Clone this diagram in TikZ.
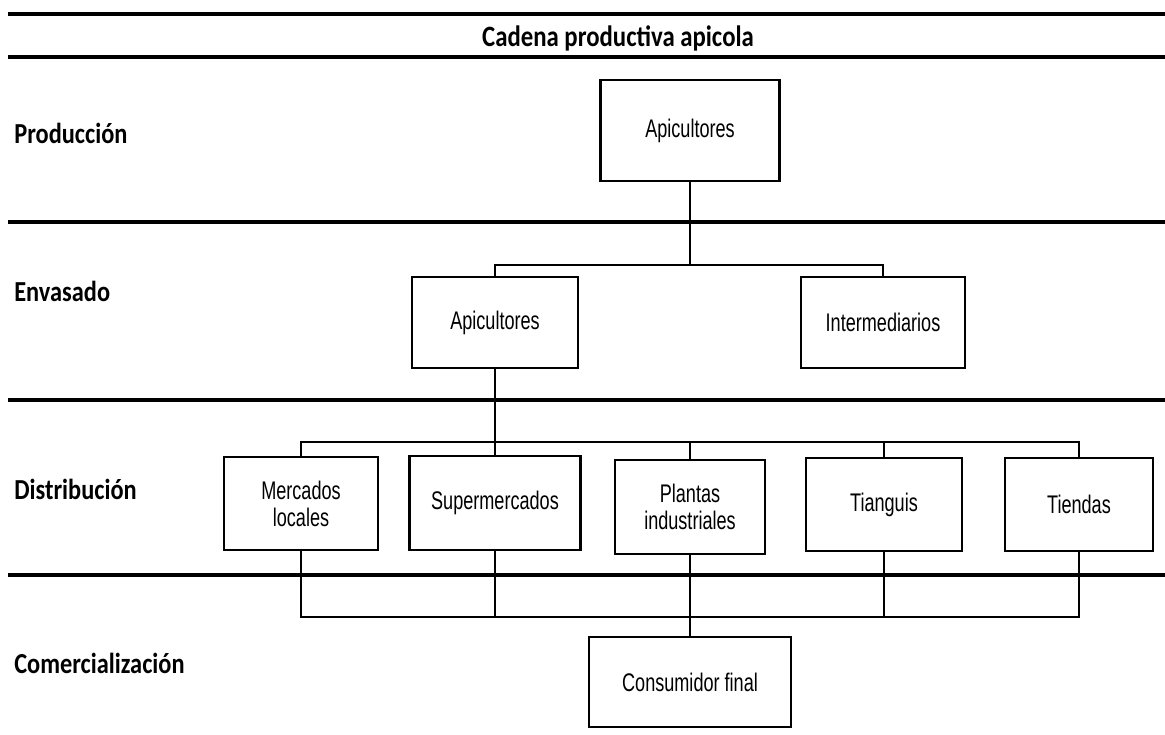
\documentclass[tikz,border=0pt]{standalone}
\usepackage{fontspec}
\newfontfamily\stagefont[FakeStretch=0.84]{Carlito}
\newfontfamily\boxfont[FakeStretch=0.71]{Liberation Sans}
\usetikzlibrary{positioning}

\begin{document}
\begin{tikzpicture}[x=0.02cm, y=-0.02cm,
  actor/.style={rectangle, draw=black, line width=1.3pt, fill=white,
             align=center, inner sep=2pt, font=\boxfont\fontsize{14.5}{15.5}\selectfont},
  stage/.style={anchor=west, inner sep=0pt, font=\stagefont\bfseries\fontsize{16.5}{19}\selectfont},
  sep/.style={line width=2.2pt},
  link/.style={line width=0.9pt},
]
\useasboundingbox (0,0) rectangle (1165,734);

% section rules
\foreach \y in {14,57,222,400,575}
  \draw[sep] (8,\y) -- (1165,\y);

\node[font=\stagefont\bfseries\fontsize{16.8}{19}\selectfont] (title) at (618,38) {Cadena productiva apicola};

\node[stage] (sprod) at (14,133) {Producción};
\node[stage] (senv)  at (14,291) {Envasado};
\node[stage] (sdist) at (14,489) {Distribución};
\node[stage] (scom)  at (14,663) {Comercialización};

\node[actor, minimum width=3.58cm, minimum height=2.02cm] (prod)   at (690,130.5) {Apicultores};
\node[actor, minimum width=3.32cm, minimum height=1.82cm] (env1)   at (495,322.5) {Apicultores};
\node[actor, minimum width=3.28cm, minimum height=1.82cm] (interm) at (883,322.5) {Intermediarios};

\node[actor, minimum width=3.08cm, minimum height=1.86cm] (merc)   at (301,503.5) {Mercados\\ locales};
\node[actor, minimum width=3.42cm, minimum height=1.88cm] (superm) at (495,503)   {Supermercados};
\node[actor, minimum width=3.00cm, minimum height=1.88cm] (plant)  at (690,507)   {Plantas\\ industriales};
\node[actor, minimum width=3.12cm, minimum height=1.86cm] (tiang)  at (884,504.5) {Tianguis};
\node[actor, minimum width=2.96cm, minimum height=1.86cm] (tiend)  at (1079,504.5) {Tiendas};

\node[actor, minimum width=4.04cm, minimum height=1.80cm] (cons)   at (690,682)   {Consumidor final};

\coordinate (hub) at (690,617);

\draw[link] (prod.south) -- ++(0,83) -| (env1.north);
\draw[link] (prod.south) -- ++(0,83) -| (interm.north);
\draw[link] (env1.south) -- (superm.north);
\draw[link] (env1.south) -- ++(0,73) -| (merc.north);
\draw[link] (env1.south) -- ++(0,73) -| (plant.north);
\draw[link] (env1.south) -- ++(0,73) -| (tiang.north);
\draw[link] (env1.south) -- ++(0,73) -| (tiend.north);
\draw[link] (merc.south) |- (hub);
\draw[link] (superm.south) |- (hub);
\draw[link] (tiang.south) |- (hub);
\draw[link] (tiend.south) |- (hub);
\draw[link] (plant.south) -- (cons.north);
\end{tikzpicture}
\end{document}
